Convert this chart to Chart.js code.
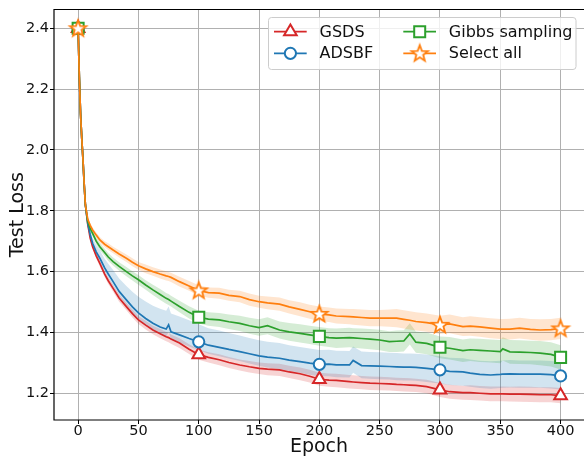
<!DOCTYPE html>
<html lang="en">

<head>
    <meta charset="UTF-8">
    <title>Test Loss</title>
    <script src="https://cdn.jsdelivr.net/npm/chart.js@4.4.1/dist/chart.umd.min.js"></script>
    <style>
        html, body { margin: 0; padding: 0; background: #fff; }
        #wrap { width: 584px; height: 458px; }
    </style>
</head>

<body>
    <div id="wrap"><canvas id="lossChart" width="584" height="458"></canvas></div>

    <script>
        const epochs = [0, 1, 2, 3, 4, 5, 6, 8, 10, 12, 15, 18, 22, 25, 29, 34, 40, 45, 50, 56, 62, 68, 73, 75, 77, 84, 92,
            100, 108, 117, 125, 134, 142, 150, 157, 167, 175, 184, 192, 200, 208, 214, 225, 228, 235, 242, 250, 258, 264,
            270, 275, 280, 289, 300, 308, 319, 325, 333, 342, 350, 352, 358, 366, 375, 383, 392, 400];

        const gsds = [2.40, 2.24, 2.12, 2.04, 1.97, 1.89, 1.82, 1.755, 1.71, 1.682, 1.652, 1.627, 1.592, 1.570, 1.545, 1.513,
            1.485, 1.462, 1.441, 1.424, 1.408, 1.396, 1.386, 1.383, 1.378, 1.365, 1.345, 1.327, 1.318, 1.310, 1.301, 1.293,
            1.287, 1.282, 1.279, 1.277, 1.270, 1.264, 1.256, 1.246, 1.243, 1.242, 1.238, 1.237, 1.235, 1.233, 1.232, 1.231,
            1.229, 1.228, 1.227, 1.226, 1.222, 1.211, 1.205, 1.202, 1.202, 1.200, 1.198, 1.198, 1.198, 1.197, 1.197, 1.196,
            1.195, 1.195, 1.192];
        const adsbf = [2.40, 2.24, 2.12, 2.04, 1.97, 1.89, 1.82, 1.758, 1.722, 1.693, 1.665, 1.644, 1.612, 1.592, 1.567, 1.535,
            1.507, 1.484, 1.464, 1.446, 1.430, 1.418, 1.411, 1.425, 1.402, 1.392, 1.380, 1.369, 1.358, 1.351, 1.344, 1.337,
            1.330, 1.323, 1.319, 1.315, 1.309, 1.304, 1.299, 1.295, 1.296, 1.293, 1.293, 1.308, 1.291, 1.290, 1.289, 1.288,
            1.287, 1.286, 1.286, 1.285, 1.282, 1.277, 1.272, 1.270, 1.266, 1.262, 1.260, 1.262, 1.263, 1.264, 1.263, 1.263,
            1.263, 1.261, 1.257];
        const gibbs = [2.40, 2.24, 2.12, 2.04, 1.97, 1.89, 1.82, 1.765, 1.742, 1.726, 1.70, 1.682, 1.663, 1.648, 1.633, 1.617,
            1.600, 1.586, 1.573, 1.556, 1.540, 1.525, 1.512, 1.508, 1.503, 1.485, 1.466, 1.450, 1.444, 1.441, 1.435, 1.430,
            1.422, 1.416, 1.422, 1.408, 1.402, 1.397, 1.392, 1.387, 1.383, 1.381, 1.383, 1.382, 1.380, 1.378, 1.375, 1.370,
            1.371, 1.372, 1.395, 1.368, 1.364, 1.351, 1.348, 1.340, 1.343, 1.341, 1.339, 1.337, 1.346, 1.336, 1.335, 1.334,
            1.332, 1.328, 1.318];
        const selectAll = [2.40, 2.24, 2.12, 2.04, 1.97, 1.89, 1.82, 1.772, 1.752, 1.737, 1.72, 1.704, 1.69, 1.682, 1.671, 1.658,
            1.644, 1.631, 1.619, 1.609, 1.600, 1.592, 1.586, 1.584, 1.581, 1.567, 1.553, 1.538, 1.531, 1.529, 1.522, 1.518,
            1.508, 1.501, 1.497, 1.493, 1.484, 1.476, 1.468, 1.461, 1.458, 1.454, 1.452, 1.451, 1.449, 1.447, 1.447, 1.447,
            1.447, 1.443, 1.440, 1.436, 1.432, 1.425, 1.428, 1.419, 1.421, 1.418, 1.414, 1.411, 1.411, 1.411, 1.414, 1.410,
            1.408, 1.409, 1.413];

        // Half widths of the shaded bands
        const gsdsSpread = [0.002, 0.003, 0.004, 0.004, 0.005, 0.005, 0.006, 0.007, 0.008, 0.008, 0.009, 0.01, 0.01, 0.011,
            0.011, 0.012, 0.012, 0.013, 0.013, 0.014, 0.014, 0.015, 0.015, 0.015, 0.015, 0.016, 0.016, 0.017, 0.017, 0.018,
            0.018, 0.018, 0.019, 0.019, 0.02, 0.02, 0.02, 0.021, 0.021, 0.021, 0.022, 0.022, 0.022, 0.022, 0.022, 0.022,
            0.022, 0.022, 0.022, 0.022, 0.022, 0.022, 0.022, 0.023, 0.023, 0.023, 0.024, 0.024, 0.024, 0.024, 0.024, 0.024,
            0.025, 0.025, 0.025, 0.025, 0.025];
        const adsbfUp = [0.002, 0.003, 0.004, 0.005, 0.006, 0.007, 0.008, 0.012, 0.015, 0.018, 0.022, 0.026, 0.03, 0.034,
            0.038, 0.042, 0.046, 0.05, 0.053, 0.056, 0.058, 0.06, 0.06, 0.06, 0.06, 0.06, 0.06, 0.058, 0.056, 0.055, 0.054,
            0.053, 0.052, 0.051, 0.05, 0.05, 0.049, 0.048, 0.048, 0.047, 0.047, 0.047, 0.046, 0.046, 0.046, 0.046, 0.046,
            0.045, 0.045, 0.045, 0.045, 0.045, 0.045, 0.045, 0.045, 0.045, 0.045, 0.045, 0.045, 0.045, 0.045, 0.045, 0.045,
            0.045, 0.045, 0.045, 0.045];
        const adsbfDown = [0.002, 0.003, 0.004, 0.004, 0.005, 0.005, 0.006, 0.008, 0.009, 0.01, 0.011, 0.012, 0.013, 0.014,
            0.015, 0.016, 0.018, 0.019, 0.02, 0.021, 0.022, 0.023, 0.024, 0.024, 0.024, 0.025, 0.026, 0.027, 0.028, 0.029,
            0.03, 0.031, 0.032, 0.033, 0.034, 0.035, 0.036, 0.037, 0.038, 0.039, 0.04, 0.04, 0.041, 0.041, 0.042, 0.042,
            0.043, 0.043, 0.044, 0.044, 0.044, 0.044, 0.045, 0.045, 0.045, 0.045, 0.045, 0.045, 0.045, 0.045, 0.045, 0.045,
            0.045, 0.045, 0.045, 0.045, 0.045];
        const gibbsSpread = [0.002, 0.003, 0.004, 0.004, 0.005, 0.005, 0.006, 0.008, 0.009, 0.01, 0.011, 0.012, 0.012, 0.013,
            0.013, 0.014, 0.015, 0.015, 0.016, 0.016, 0.017, 0.018, 0.018, 0.018, 0.018, 0.019, 0.02, 0.021, 0.022, 0.023,
            0.024, 0.025, 0.026, 0.027, 0.028, 0.028, 0.029, 0.03, 0.03, 0.031, 0.031, 0.032, 0.032, 0.032, 0.033, 0.033,
            0.034, 0.034, 0.035, 0.035, 0.035, 0.035, 0.036, 0.036, 0.037, 0.037, 0.037, 0.038, 0.038, 0.038, 0.038, 0.039,
            0.039, 0.039, 0.04, 0.04, 0.04];
        const selectAllSpread = [0.002, 0.003, 0.004, 0.004, 0.005, 0.005, 0.006, 0.007, 0.008, 0.008, 0.009, 0.01, 0.01,
            0.011, 0.011, 0.012, 0.012, 0.013, 0.013, 0.014, 0.014, 0.015, 0.015, 0.015, 0.015, 0.016, 0.016, 0.017, 0.017,
            0.018, 0.018, 0.019, 0.02, 0.02, 0.021, 0.022, 0.022, 0.023, 0.023, 0.024, 0.024, 0.025, 0.025, 0.026, 0.026,
            0.027, 0.027, 0.028, 0.03, 0.03, 0.03, 0.03, 0.03, 0.03, 0.031, 0.031, 0.032, 0.032, 0.033, 0.033, 0.033, 0.034,
            0.034, 0.034, 0.035, 0.035, 0.035];

        const markEpochs = [0, 100, 200, 300, 400];
        const xTicks = [0, 50, 100, 150, 200, 250, 300, 350, 400];
        const yTicks = [1.2, 1.4, 1.6, 1.8, 2.0, 2.2, 2.4];

        const RED = '#d62728', BLUE = '#1f77b4', GREEN = '#2ca02c', ORANGE = '#ff7f0e';
        const FONT = 'DejaVu Sans';

        // outlined star marker (Chart.js 'star' is an asterisk)
        function makeStar(color) {
            const c = document.createElement('canvas');
            c.width = 22; c.height = 22;
            const g = c.getContext('2d');
            g.beginPath();
            for (let i = 0; i < 10; i++) {
                const r = i % 2 === 0 ? 8.6 : 3.6;
                const a = -Math.PI / 2 + i * Math.PI / 5;
                const px = 11 + r * Math.cos(a), py = 11.5 + r * Math.sin(a);
                if (i === 0) g.moveTo(px, py); else g.lineTo(px, py);
            }
            g.closePath();
            g.fillStyle = '#fff';
            g.fill();
            g.strokeStyle = color;
            g.lineWidth = 1.8;
            g.stroke();
            return c;
        }
        const starImg = makeStar(ORANGE);

        const pts = (vals) => epochs.map((e, i) => ({ x: e, y: vals[i] }));
        const markRadius = (r) => (ctx) => (ctx.raw && markEpochs.includes(ctx.raw.x)) ? r : 0;

        function band(mean, up, down, fillColor, order) {
            return [
                {
                    data: epochs.map((e, i) => ({ x: e, y: mean[i] + up[i] })),
                    borderWidth: 0, borderColor: 'transparent', pointRadius: 0,
                    backgroundColor: fillColor, fill: '+1', order
                },
                {
                    data: epochs.map((e, i) => ({ x: e, y: mean[i] - down[i] })),
                    borderWidth: 0, borderColor: 'transparent', pointRadius: 0,
                    fill: false, order
                }
            ];
        }

        function line(label, vals, color, style, radius, order) {
            return {
                label, data: pts(vals), borderColor: color, borderWidth: 1.7,
                pointStyle: style, pointRadius: markRadius(radius),
                pointBackgroundColor: '#fff', pointBorderColor: color, pointBorderWidth: 2,
                fill: false, tension: 0, order
            };
        }

        const datasets = [
            ...band(gsds, gsdsSpread, gsdsSpread, 'rgba(214, 39, 40, 0.2)', 8),
            ...band(adsbf, adsbfUp, adsbfDown, 'rgba(31, 119, 180, 0.2)', 7),
            ...band(gibbs, gibbsSpread, gibbsSpread, 'rgba(44, 160, 44, 0.2)', 6),
            ...band(selectAll, selectAllSpread, selectAllSpread, 'rgba(255, 127, 14, 0.2)', 5),
            line('GSDS', gsds, RED, 'triangle', 7.3, 4),
            line('ADSBF', adsbf, BLUE, 'circle', 5.6, 3),
            line('Gibbs sampling', gibbs, GREEN, 'rect', 7.8, 2),
            line('Select all', selectAll, ORANGE, starImg, 6, 1)
        ];

        function drawMarker(ctx, kind, x, y, color) {
            if (kind === 'star') {
                ctx.drawImage(starImg, x - 11, y - 11);
                return;
            }
            ctx.beginPath();
            if (kind === 'triangle') {
                for (let k = 0; k < 3; k++) {
                    const a = -Math.PI / 2 + k * 2 * Math.PI / 3;
                    const px = x + 7.3 * Math.cos(a), py = y + 7.3 * Math.sin(a);
                    if (k === 0) ctx.moveTo(px, py); else ctx.lineTo(px, py);
                }
                ctx.closePath();
            } else if (kind === 'circle') {
                ctx.arc(x, y, 5.6, 0, Math.PI * 2);
            } else {
                ctx.rect(x - 5.5, y - 5.5, 11, 11);
            }
            ctx.fillStyle = '#fff';
            ctx.fill();
            ctx.strokeStyle = color;
            ctx.lineWidth = 2;
            ctx.stroke();
        }

        // black spines on left, top and bottom
        const spines = {
            id: 'spines',
            afterDatasetsDraw(chart) {
                const { ctx, chartArea: a } = chart;
                ctx.save();
                ctx.strokeStyle = '#000';
                ctx.lineWidth = 1.2;
                ctx.beginPath();
                ctx.moveTo(a.right, a.top); ctx.lineTo(a.left, a.top); ctx.lineTo(a.left, a.bottom); ctx.lineTo(a.right, a.bottom);
                ctx.stroke();
                ctx.restore();
            }
        };

        // matplotlib style legend: line + marker + label, two columns
        const legendBox = {
            id: 'legendBox',
            afterDraw(chart) {
                const ctx = chart.ctx;
                const items = [
                    { text: 'GSDS', color: RED, kind: 'triangle', x: 274, y: 31.7 },
                    { text: 'ADSBF', color: BLUE, kind: 'circle', x: 274, y: 53.3 },
                    { text: 'Gibbs sampling', color: GREEN, kind: 'rect', x: 403.3, y: 31.7 },
                    { text: 'Select all', color: ORANGE, kind: 'star', x: 403.3, y: 53.3 }
                ];
                ctx.save();
                ctx.beginPath();
                ctx.roundRect(268.5, 17.5, 307.5, 52, 3);
                ctx.fillStyle = 'rgba(255, 255, 255, 0.8)';
                ctx.fill();
                ctx.strokeStyle = '#cccccc';
                ctx.lineWidth = 1;
                ctx.stroke();
                items.forEach(it => {
                    ctx.beginPath();
                    ctx.moveTo(it.x, it.y);
                    ctx.lineTo(it.x + 32.7, it.y);
                    ctx.strokeStyle = it.color;
                    ctx.lineWidth = 1.7;
                    ctx.stroke();
                    drawMarker(ctx, it.kind, it.x + 16.4, it.y, it.color);
                    ctx.fillStyle = '#111';
                    ctx.font = '16px "' + FONT + '"';
                    ctx.textBaseline = 'middle';
                    ctx.textAlign = 'left';
                    ctx.fillText(it.text, it.x + 45.5, it.y + 1);
                });
                ctx.restore();
            }
        };

        new Chart(document.getElementById('lossChart').getContext('2d'), {
            type: 'line',
            data: { datasets },
            options: {
                responsive: false,
                devicePixelRatio: 1,
                animation: false,
                events: [],
                layout: { autoPadding: false, padding: { top: 9.5, right: 0, bottom: 0, left: 0 } },
                plugins: {
                    legend: { display: false },
                    tooltip: { enabled: false }
                },
                scales: {
                    x: {
                        type: 'linear',
                        min: -20,
                        max: 419.4,
                        afterBuildTicks: (s) => { s.ticks = xTicks.map(v => ({ value: v })); },
                        afterFit: (s) => { s.height = 38; s.paddingLeft = 0; s.paddingRight = 0; },
                        grid: { color: '#b0b0b0', lineWidth: 1, tickColor: '#000', tickLength: 4, tickWidth: 1 },
                        border: { display: false },
                        ticks: {
                            color: '#111', padding: 0, maxRotation: 0, autoSkip: false,
                            font: { family: FONT, size: 14.5, lineHeight: 1 }
                        },
                        title: {
                            display: true, text: 'Epoch', color: '#111',
                            font: { family: FONT, size: 19, lineHeight: 1.2 },
                            padding: { top: 0, bottom: 0 }
                        }
                    },
                    y: {
                        type: 'linear',
                        min: 1.112,
                        max: 2.462,
                        afterBuildTicks: (s) => { s.ticks = yTicks.map(v => ({ value: v })); },
                        afterFit: (s) => { s.width = 54; s.paddingTop = 0; s.paddingBottom = 0; },
                        grid: { color: '#b0b0b0', lineWidth: 1, tickColor: '#000', tickLength: 4, tickWidth: 1 },
                        border: { display: false },
                        ticks: {
                            color: '#111', padding: 1,
                            font: { family: FONT, size: 14.5, lineHeight: 1 },
                            callback: (v) => Number(v).toFixed(1)
                        },
                        title: {
                            display: true, text: 'Test Loss', color: '#111',
                            font: { family: FONT, size: 19, lineHeight: 1.2 },
                            padding: { top: 7, bottom: 0 }
                        }
                    }
                }
            },
            plugins: [spines, legendBox]
        });
    </script>
</body>

</html>
